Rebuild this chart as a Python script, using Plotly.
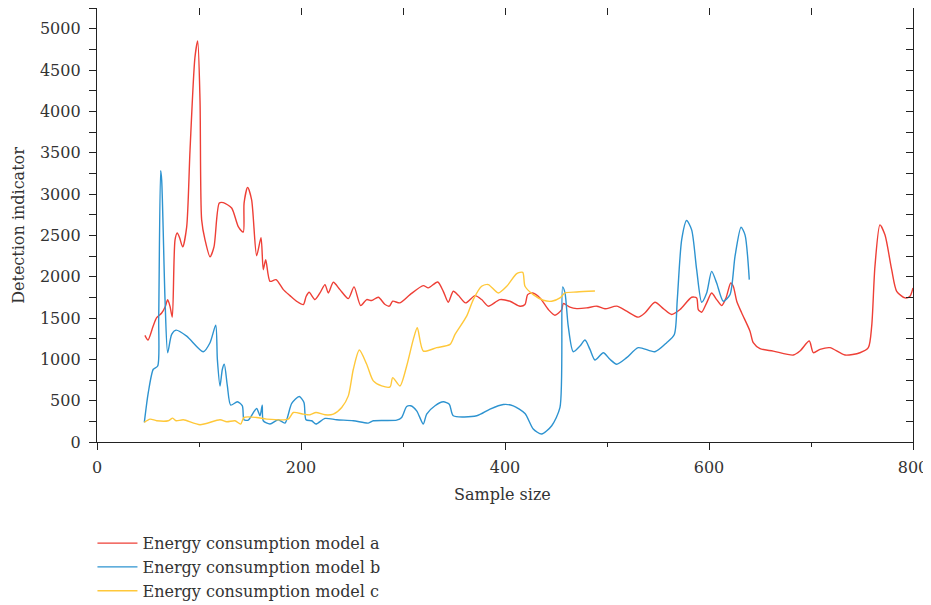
import plotly.graph_objects as go

# Energy consumption model a
a_x = [47, 50, 55, 58.5, 63.4, 67, 69.3, 71.6, 73.8, 76.5, 78.7, 81, 84, 87.9, 91.2, 96, 98.7, 101, 102.6, 105.9,
       110.8, 114.7, 119.9, 123.8, 132, 138.5, 143.4, 144.2, 147.7, 151.6, 156.5, 160.8, 163, 165.4, 169.6, 175.5,
       182.7, 189.2, 195.8, 202.3, 205, 208, 213.7, 218.6, 223.5, 226.8, 231.7, 238.2, 246.4, 252, 258.5, 264.4,
       269.3, 275.8, 282.4, 286.6, 289.9, 297, 306.9, 319.9, 324.8, 334, 339.5, 344.4, 349.3, 354.2, 361.4, 370.6,
       377.1, 383.6, 395, 404.9, 414.7, 419.6, 422.2, 427.1, 434.3, 442.5, 449, 455.6, 457.2, 463.7, 470.3, 480,
       489.9, 498, 509.5, 519.3, 530.7, 537.3, 547, 555.2, 563.4, 571.6, 583, 587.9, 589.5, 592.8, 597.7, 602.6,
       607.5, 612.5, 616.7, 621.3, 623.8, 627.2, 632, 640.2, 643.4, 650, 663, 682.6, 689.2, 698.3, 702.3, 708.8,
       718.6, 733.3, 748, 756.2, 759.5, 762.7, 767.6, 772.5, 779.1, 784, 792.2, 797, 800]
a_y = [1290, 1233, 1400, 1504, 1560, 1640, 1722, 1640, 1510, 2445, 2530, 2470, 2360, 2600, 3530, 4650, 4850, 4130, 2687, 2445,
       2240, 2360, 2890, 2895, 2830, 2606, 2540, 2890, 3080, 2930, 2253, 2470, 2084, 2205, 1944, 1964,
       1843, 1771, 1702, 1663, 1760, 1811, 1723, 1803, 1904, 1803, 1932, 1843, 1735, 1876, 1650, 1723,
       1711, 1751, 1663, 1643, 1703, 1683, 1783, 1892, 1864, 1936, 1823, 1691, 1823, 1775, 1683, 1771,
       1723, 1643, 1723, 1703, 1643, 1663, 1783, 1803, 1743, 1602, 1534, 1602, 1675, 1631, 1614, 1622,
       1643, 1611, 1643, 1582, 1510, 1563, 1691, 1614, 1542, 1602, 1751, 1743, 1602, 1570, 1683, 1803,
       1723, 1650, 1743, 1924, 1884, 1703, 1563, 1341, 1201, 1129, 1100, 1052, 1100, 1221, 1080, 1120,
       1141, 1052, 1080, 1141, 1401, 2124, 2627, 2506, 2084, 1823, 1743, 1763, 1864]

# Energy consumption model b
b_x = [46.4, 50.3, 55.2, 59.5, 60.5, 62.4, 63.4, 66.7, 69.3, 73.2, 77.5, 87.9, 104.2, 110.8, 116.4, 118, 120.6, 122.9,
       124.8, 127.8, 131.1, 137.6, 142.5, 144.1, 148.3, 156.5, 159.8, 162, 163, 169.6, 177.7, 184.3, 190.9, 198.3,
       202.9, 204.9, 210.5, 214.7, 223.5, 235, 251.3, 266, 270.9, 293.8, 298.7, 303.6, 307.5, 313.4, 319.9, 323.2,
       331.4, 339.5, 345.4, 349.3, 372.3, 385.3, 398.3, 408.1, 419.6, 427.7, 435.9, 445.8, 453.9, 456.5, 458.8,
       462, 466.9, 473.5, 478.4, 483.3, 488.2, 496.4, 502.9, 509.5, 519.3, 530.7, 547, 558.5, 566, 568.9, 573.2,
       578.1, 583, 587.9, 592.8, 597.7, 602.6, 607.5, 614, 620.6, 625.5, 631.4, 635.3, 639.5]
b_y = [237, 599, 880, 919, 1500, 3281, 3169, 1723, 1080, 1301, 1353, 1281, 1092, 1201, 1413, 1000, 678, 880,
       940, 678, 446, 486, 438, 269, 265, 406, 317, 446, 257, 217, 269, 229, 466, 550,
       477, 269, 257, 217, 285, 269, 257, 229, 257, 265, 297, 430, 438, 377, 217, 337,
       438, 486, 458, 317, 317, 398, 453, 438, 345, 157, 96, 197, 418, 1876, 1803,
       1401, 1092, 1161, 1233, 1120, 992, 1080, 1000, 940, 1020, 1141, 1092, 1201, 1301, 1723, 2446,
       2679, 2566, 2084, 1691, 1803, 2064, 1924, 1703, 1783, 2245, 2598, 2506, 1964]

# Energy consumption model c
c_x = [46.4, 52, 58.5, 69.9, 74.2, 77.5, 84.6, 101, 120.6, 127.2, 135.3, 140.9, 144.1, 156.5, 166.4, 187.5, 192.5,
       202.3, 208.8, 214.7, 223.5, 231.7, 239.9, 246.4, 251.3, 257.2, 264.4, 270.9, 279.1, 287.3, 289.9, 297,
       303.6, 310.1, 314, 319.9, 333, 346.1, 351, 362.4, 368.9, 377.1, 383.6, 393.4, 401.7, 411.5, 417.4, 419.6,
       427.7, 437.5, 445.8, 453.9, 458.8, 470.3, 488.2]
c_y = [237, 277, 257, 257, 289, 257, 269, 209, 269, 245, 257, 217, 297, 297, 277, 277, 357,
       337, 329, 357, 329, 337, 418, 558, 880, 1112, 940, 739, 678, 666, 779, 678,
       919, 1241, 1382, 1100, 1141, 1181, 1301, 1522, 1723, 1884, 1904, 1803, 1884, 2036, 2052, 1884,
       1783, 1715, 1703, 1743, 1803, 1815, 1827]

names = ["Energy consumption model a", "Energy consumption model b", "Energy consumption model c"]
colors = ["#EE3F36", "#2D93D0", "#FFC83A"]

x_tickvals = [0, 200, 400, 600, 800]
y_tickvals = [0, 500, 1000, 1500, 2000, 2500, 3000, 3500, 4000, 4500, 5000]
x_title = "Sample size"
y_title = "Detection indicator"

FONT = "DejaVu Serif"
TXT = "#333"
fig = go.Figure()
for xs, ys, nm, col in zip([a_x, b_x, c_x], [a_y, b_y, c_y], names, colors):
    fig.add_trace(go.Scatter(x=xs, y=ys, mode="lines", name=nm,
                             line=dict(color=col, width=1.4, shape="spline", smoothing=0.7)))

# invisible trace to activate mirror axes (top/right with inward ticks)
fig.add_trace(go.Scatter(x=[None], y=[None], xaxis="x2", yaxis="y2", showlegend=False, hoverinfo="skip"))

axis_common = dict(showgrid=False, zeroline=False, showline=True, linecolor="#222", linewidth=1.3,
                   tickcolor="#222", tickwidth=1.3, ticklen=7,
                   tickfont=dict(family=FONT, size=16, color=TXT))

# page has an 8px body margin: figure is sized so that the plot area lands where the reference has it
fig.update_layout(
    width=923, height=597,
    margin=dict(l=89, r=18, t=0, b=163, autoexpand=False),
    paper_bgcolor="white", plot_bgcolor="white",
    font=dict(family=FONT, size=16, color=TXT),
    xaxis=dict(range=[0, 800], tickvals=x_tickvals, ticks="outside", ticklabelstandoff=4,
               minor=dict(dtick=100, ticks="outside", ticklen=4, tickcolor="#222", tickwidth=1.3),
               **axis_common),
    yaxis=dict(range=[0, 5250], tickvals=y_tickvals, ticks="outside", ticklabelstandoff=5,
               minor=dict(dtick=250, ticks="outside", ticklen=7, tickcolor="#222", tickwidth=1.3),
               **axis_common),
    xaxis2=dict(range=[0, 800], overlaying="x", side="top", dtick=100, tick0=0, ticks="inside",
                showticklabels=False, **axis_common),
    yaxis2=dict(range=[0, 5250], overlaying="y", side="right", dtick=250, tick0=0, ticks="inside",
                showticklabels=False, **axis_common),
    legend=dict(xref="container", yref="container", x=0.0915, y=0.132, xanchor="left", yanchor="top",
                font=dict(family=FONT, size=16, color=TXT), bgcolor="rgba(0,0,0,0)",
                tracegroupgap=0, itemwidth=40),
    showlegend=True,
    annotations=[
        dict(text=x_title, xref="paper", yref="paper", x=0.497, y=-0.12, xanchor="center", yanchor="middle",
             showarrow=False, font=dict(family=FONT, size=16, color=TXT)),
        dict(text=y_title, xref="paper", yref="paper", x=-0.097, y=0.5, xanchor="center", yanchor="middle",
             textangle=-90, showarrow=False, font=dict(family=FONT, size=16, color=TXT)),
    ],
)

fig.write_html("out.html")
